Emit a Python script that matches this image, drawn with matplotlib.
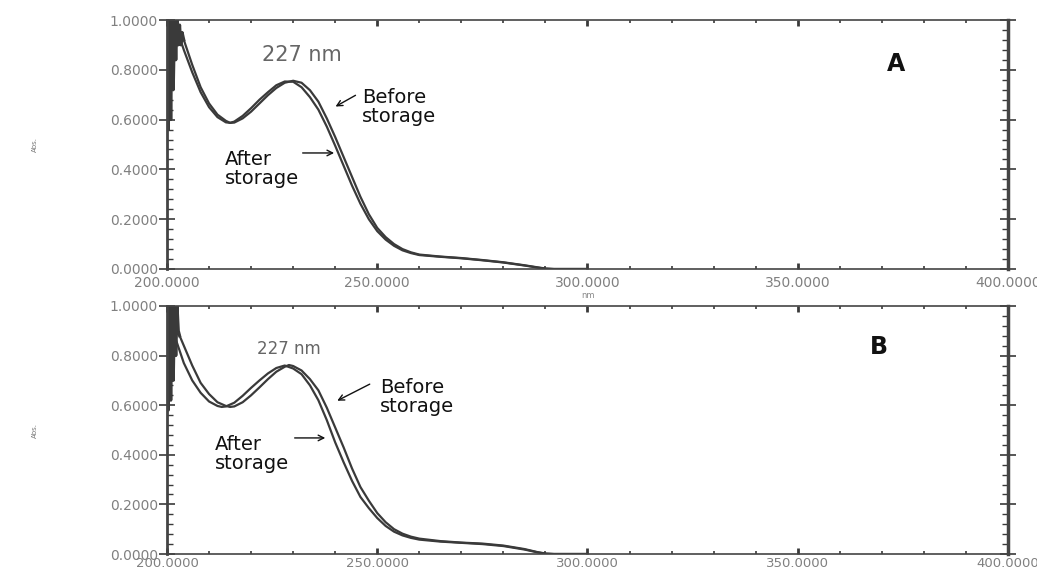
import matplotlib
matplotlib.use("Agg")
import matplotlib.pyplot as plt
import matplotlib.ticker as mticker

# Panel A
wl_before_a = [204, 206, 208, 210, 212, 214, 215, 216, 218, 220, 222, 224, 226, 228, 230,
               232, 234, 236, 238, 240, 242, 244, 246, 248, 250, 252, 254, 256, 258, 260,
               265, 270, 275, 280, 285, 288, 290, 292, 300]
abs_before_a = [0.92, 0.82, 0.73, 0.665, 0.62, 0.595, 0.587, 0.588, 0.605, 0.632, 0.665,
                0.698, 0.727, 0.748, 0.756, 0.748, 0.718, 0.672, 0.605, 0.53, 0.45, 0.37,
                0.29, 0.22, 0.165, 0.128, 0.10, 0.08, 0.067, 0.058, 0.05, 0.044, 0.036,
                0.027, 0.015, 0.007, 0.002, 0.0, 0.0]
wl_after_a = [203, 204, 206, 208, 210, 212, 214, 215, 216, 218, 220, 222, 224, 226, 228,
              230, 232, 234, 236, 238, 240, 242, 244, 246, 248, 250, 252, 254, 256, 258,
              260, 265, 270, 275, 280, 285, 288, 290, 292, 300]
abs_after_a = [0.93, 0.88, 0.79, 0.71, 0.65, 0.61, 0.589, 0.587, 0.592, 0.615, 0.646,
               0.68, 0.71, 0.738, 0.753, 0.752, 0.73, 0.69, 0.64, 0.572, 0.495, 0.415,
               0.335, 0.262, 0.2, 0.152, 0.118, 0.093, 0.075, 0.064, 0.056, 0.049, 0.043,
               0.035, 0.026, 0.014, 0.006, 0.001, 0.0, 0.0]
spike_wl_a = [200.0, 200.3, 200.6, 200.9, 201.2, 201.5, 201.8, 202.1, 202.4, 202.7,
              203.0, 203.3, 203.6, 204.0]
spike_abs_a = [1.0, 0.56, 1.0, 0.6, 1.0, 0.72, 1.0, 0.84, 1.0, 0.9, 0.98, 0.9, 0.95, 0.92]

# Panel B
wl_before_b = [203, 204, 206, 208, 210, 212, 214, 215, 216, 218, 220, 222, 224, 226, 228,
               229, 230, 232, 234, 236, 238, 240, 242, 244, 246, 248, 250, 252, 254, 256,
               258, 260, 265, 270, 275, 280, 285, 288, 290, 292, 300]
abs_before_b = [0.88, 0.84, 0.76, 0.69, 0.645, 0.612, 0.597, 0.593, 0.595, 0.612, 0.64,
                0.672, 0.705, 0.735, 0.755, 0.762, 0.758, 0.74, 0.705, 0.66, 0.59, 0.51,
                0.43, 0.345, 0.27, 0.215, 0.165, 0.128, 0.10, 0.082, 0.07, 0.062, 0.052,
                0.046, 0.042, 0.034, 0.02, 0.008, 0.002, 0.0, 0.0]
wl_after_b = [200, 201, 202, 203, 204, 206, 208, 210, 212, 213, 214, 216, 218, 220, 222,
              224, 226, 228, 230, 232, 234, 236, 238, 240, 242, 244, 246, 248, 250, 252,
              254, 256, 258, 260, 265, 270, 275, 280, 285, 288, 290, 292, 300]
abs_after_b = [0.98, 0.93, 0.87, 0.82, 0.77, 0.70, 0.65, 0.615, 0.597, 0.593, 0.595, 0.61,
               0.638, 0.67, 0.70, 0.728, 0.75, 0.76, 0.748, 0.725, 0.68, 0.62, 0.54, 0.45,
               0.37, 0.295, 0.23, 0.185, 0.145, 0.113, 0.09, 0.075, 0.065, 0.058, 0.05,
               0.045, 0.04, 0.032, 0.018, 0.007, 0.001, 0.0, 0.0]
spike_wl_b = [200.0, 200.3, 200.6, 200.9, 201.2, 201.5, 201.8, 202.1, 202.4, 202.7, 203.0]
spike_abs_b = [1.0, 0.58, 1.0, 0.62, 1.0, 0.7, 1.0, 0.8, 1.0, 0.9, 0.88]

paneles = [
    dict(letra="A", wl_b=wl_before_a, ab_b=abs_before_a, wl_a=wl_after_a, ab_a=abs_after_a,
         sp_wl=spike_wl_a, sp_ab=spike_abs_a, xpad=5, xsize=10,
         pico=(232.1, 0.859, 15), antes=(246.4, 0.65), flecha_antes=((245.4, 0.703), (239.5, 0.647)),
         despues=(213.8, 0.40), flecha_despues=((231.6, 0.466), (240.4, 0.466)),
         pos_letra=(373.4, 0.823)),
    dict(letra="B", wl_b=wl_before_b, ab_b=abs_before_b, wl_a=wl_after_b, ab_a=abs_after_b,
         sp_wl=spike_wl_b, sp_ab=spike_abs_b, xpad=2.5, xsize=9.5,
         pico=(229.0, 0.827, 12), antes=(250.7, 0.635), flecha_antes=((248.8, 0.69), (239.9, 0.613)),
         despues=(211.4, 0.405), flecha_despues=((229.7, 0.468), (238.3, 0.468)),
         pos_letra=(369.3, 0.835)),
]

W, H = 1037, 572
fig = plt.figure(figsize=(W / 100, H / 100), dpi=100)
fig.patch.set_facecolor("white")

rects = [(167, 20, 1008, 269), (167, 306, 1008, 554)]
grey = "#3a3a3a"

for p, (x0, y0, x1, y1) in zip(paneles, rects):
    ax = fig.add_axes([x0 / W, 1 - y1 / H, (x1 - x0) / W, (y1 - y0) / H])

    ax.plot(p["sp_wl"], p["sp_ab"], color=grey, lw=2.2)
    ax.plot(p["wl_b"], p["ab_b"], color=grey, lw=1.6)
    ax.plot(p["wl_a"], p["ab_a"], color=grey, lw=1.6)

    ax.set_xlim(200, 400)
    ax.set_ylim(0, 1.0)

    ax.xaxis.set_major_locator(mticker.MultipleLocator(50))
    ax.xaxis.set_minor_locator(mticker.MultipleLocator(10))
    ax.yaxis.set_major_locator(mticker.MultipleLocator(0.2))
    ax.yaxis.set_minor_locator(mticker.MultipleLocator(0.04))
    ax.xaxis.set_major_formatter(mticker.FormatStrFormatter("%.4f"))
    ax.yaxis.set_major_formatter(mticker.FormatStrFormatter("%.4f"))

    ax.tick_params(axis="y", which="major", direction="inout", length=11, width=1.2,
                   left=True, right=True, labelsize=10, labelcolor="#808080", color=grey, pad=1)
    ax.tick_params(axis="y", which="minor", direction="in", length=4, width=1.0,
                   left=True, right=True, color=grey)
    ax.tick_params(axis="x", which="major", direction="in", length=4, width=2,
                   top=True, bottom=True, labelsize=p["xsize"], labelcolor="#808080",
                   color=grey, pad=p["xpad"])
    ax.tick_params(axis="x", which="minor", direction="in", length=2.5, width=1.2,
                   top=True, bottom=True, color=grey)

    for lado, ancho in [("left", 2.0), ("right", 2.5), ("top", 1.2), ("bottom", 1.2)]:
        ax.spines[lado].set_linewidth(ancho)
        ax.spines[lado].set_color("#444444")

    ax.set_ylabel("Abs.", fontsize=5, color="#777777", labelpad=52)
    ax.set_xlabel("nm", fontsize=6, color="#888888", labelpad=0.5)

    px, py, fs = p["pico"]
    ax.text(px, py, "227 nm", fontsize=fs, color="#666666", ha="center", va="center")
    ax.text(*p["antes"], "Before\nstorage", fontsize=14, color="#111111",
            ha="left", va="center", linespacing=1.0)
    ax.text(*p["despues"], "After\nstorage", fontsize=14, color="#111111",
            ha="left", va="center", linespacing=1.0)
    for (cola, punta) in [p["flecha_antes"], p["flecha_despues"]]:
        ax.annotate("", xy=punta, xytext=cola,
                    arrowprops=dict(arrowstyle="->", color="#111111", lw=1.0))
    ax.text(*p["pos_letra"], p["letra"], fontsize=17, fontweight="bold",
            color="#111111", ha="center", va="center")

plt.savefig("out.png", dpi=100)
